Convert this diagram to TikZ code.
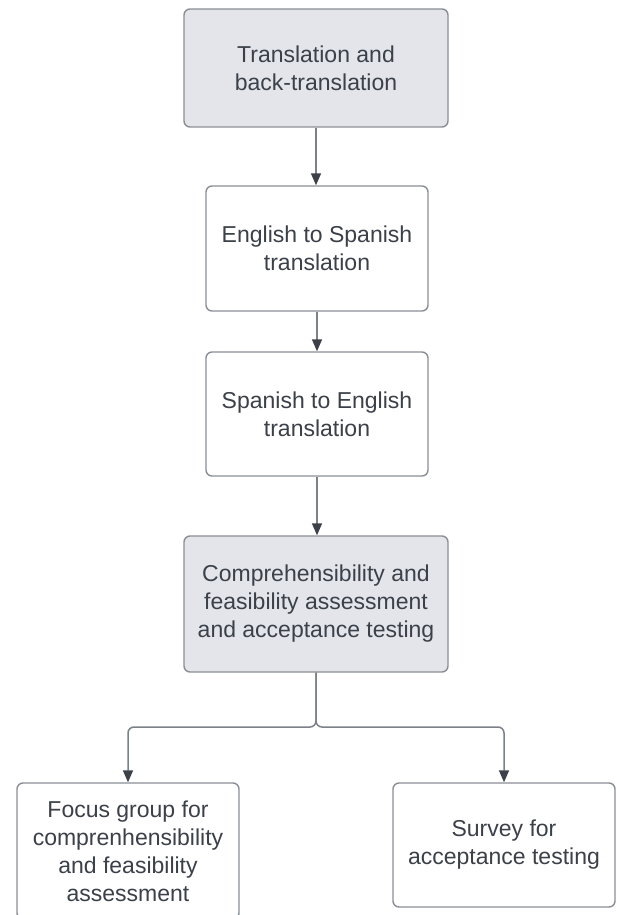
\documentclass[tikz,border=0pt]{standalone}
\usepackage{fontspec}
\setmainfont{Liberation Sans}
\usetikzlibrary{arrows.meta,positioning}

\definecolor{boxline}{HTML}{8A8E95}
\definecolor{boxfill}{HTML}{E3E5EA}
\definecolor{inktext}{HTML}{3B4049}
\definecolor{inkline}{HTML}{7C8087}

\tikzset{
    stage/.style={draw=boxline, line width=1.4pt, rounded corners=6pt, fill=white,
        text=inktext, align=center, inner sep=0pt,
        font=\fontsize{23}{28}\selectfont},
    stagegray/.style={stage, fill=boxfill},
    link/.style={draw=inkline, line width=1.5pt,
        -{Triangle[length=12pt,width=10pt,color=inktext]}}
}

\begin{document}
\begin{tikzpicture}[x=1pt,y=-1pt]
    \useasboundingbox (0,0) rectangle (616,915);
    % main chain
    \node[stagegray, minimum width=264pt, minimum height=118pt] (trans) at (316,68)
        {Translation and\\back-translation};
    \node[stage, minimum width=222pt, minimum height=125pt] (engspa) at (317,248.5)
        {English to Spanish\\translation};
    \node[stage, minimum width=222pt, minimum height=124pt] (spaeng) at (317,414)
        {Spanish to English\\translation};
    \node[stagegray, minimum width=264pt, minimum height=136pt] (assess) at (316,604)
        {Comprehensibility and\\feasibility assessment\\and acceptance testing};
    % branches
    \node[stage, minimum width=222pt, minimum height=136pt] (focus) at (128,851)
        {Focus group for\\comprenhensibility\\and feasibility\\assessment};
    \node[stage, minimum width=222pt, minimum height=124pt] (survey) at (504,845)
        {Survey for\\acceptance testing};
    \coordinate (fork) at (316,727);

    \draw[link] (trans.south) -- (trans.south |- engspa.north);
    \draw[link] (engspa.south) -- (engspa.south |- spaeng.north);
    \draw[link] (spaeng.south) -- (spaeng.south |- assess.north);
    \draw[link, rounded corners=6pt] (assess.south) -- (fork) -| (focus.north);
    \draw[link, rounded corners=6pt] (assess.south) -- (fork) -| (survey.north);
\end{tikzpicture}
\end{document}
